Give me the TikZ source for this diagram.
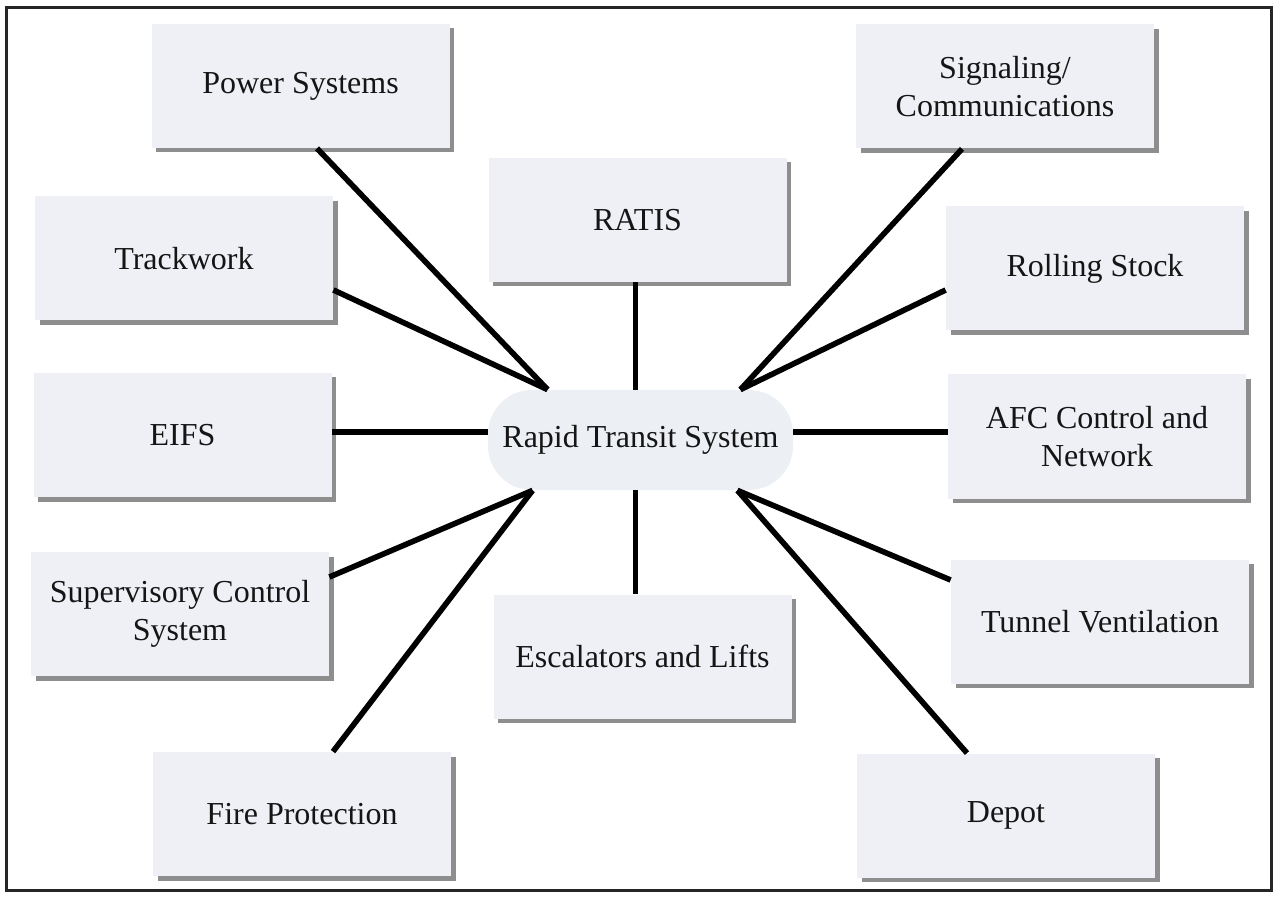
\documentclass[tikz,border=0pt]{standalone}
\usepackage{fontspec}
\setmainfont{Liberation Serif}
\usetikzlibrary{shadows,calc}

\definecolor{boxfill}{HTML}{EEF0F5}
\definecolor{hubfill}{HTML}{ECEFF4}
\definecolor{shadowgray}{HTML}{8E8E8E}
\definecolor{inkdark}{HTML}{151515}

\tikzset{
  unitbox/.style={
    fill=boxfill, draw=none, inner sep=0pt, align=center,
    text=inkdark, font=\fontsize{16}{19}\selectfont,
    minimum width=149pt, minimum height=62pt,
    drop shadow={shadow xshift=2.25pt, shadow yshift=-2.25pt,
                 fill=shadowgray, opacity=1}
  },
  hubbox/.style={
    fill=hubfill, draw=none, rounded corners=22pt, inner sep=0pt,
    text=inkdark, font=\fontsize{16}{19}\selectfont,
    minimum width=152.5pt, minimum height=50pt
  },
  spoke/.style={draw=black, line width=2.8pt},
  frame/.style={draw=black!85, line width=1.5pt}
}

\begin{document}
\begin{tikzpicture}[x=0.5pt, y=-0.5pt]
  \useasboundingbox (0,0) rectangle (1278,897);
  \draw[frame] (6,8) rectangle (1271,890);

  % central system
  \node[hubbox] (hub) at (640.5,440) {Rapid Transit System};

  % subsystems, left column
  \node[unitbox] (power)  at (300.5,86)  {Power Systems};
  \node[unitbox] (track)  at (184,258.5) {Trackwork};
  \node[unitbox] (eifs)   at (182.5,435) {EIFS};
  \node[unitbox] (scs)    at (180,614)   {Supervisory Control\\System};
  \node[unitbox] (fire)   at (302,814)   {Fire Protection};

  % subsystems, middle column
  \node[unitbox] (ratis)  at (637.5,220) {RATIS};
  \node[unitbox] (esc)    at (642.5,656.5) {Escalators and Lifts};

  % subsystems, right column
  \node[unitbox] (signal) at (1005,86.5)  {Signaling/\\Communications};
  \node[unitbox] (roll)   at (1095,268.5) {Rolling Stock};
  \node[unitbox] (afc)    at (1097,436.5) {AFC Control and\\Network};
  \node[unitbox] (tunnel) at (1100,621.5) {Tunnel Ventilation};
  \node[unitbox] (depot)  at (1006,815.5) {Depot};

  % meeting points on the central node
  \coordinate (hubNW) at ($(hub.north west)+(60,0)$);
  \coordinate (hubNE) at ($(hub.north east)+(-53,0)$);
  \coordinate (hubSW) at ($(hub.south west)+(45,0)$);
  \coordinate (hubSE) at ($(hub.south east)+(-56,0)$);
  \coordinate (hubN)  at ($(hub.north)+(-5,0)$);
  \coordinate (hubS)  at ($(hub.south)+(-5,0)$);
  \coordinate (hubW)  at ($(hub.west)+(0,-8)$);
  \coordinate (hubE)  at ($(hub.east)+(0,-8)$);

  % spokes
  \draw[spoke] ($(power.south)+(16.5,0)$) -- (hubNW);
  \draw[spoke] ($(track.east)+(0,31.5)$)  -- (hubNW);
  \draw[spoke] (eifs.east |- hubW) -- (hubW);
  \draw[spoke] ($(scs.east)+(0,-37)$)     -- (hubSW);
  \draw[spoke] ($(fire.north)+(31,0)$)    -- (hubSW);
  \draw[spoke] (ratis.south -| hubN) -- (hubN);
  \draw[spoke] (esc.north -| hubS)   -- (hubS);
  \draw[spoke] ($(signal.south)+(-43,0)$) -- (hubNE);
  \draw[spoke] ($(roll.west)+(0,21.5)$)   -- (hubNE);
  \draw[spoke] (afc.west |- hubE) -- (hubE);
  \draw[spoke] ($(tunnel.west)+(0,-41.5)$) -- (hubSE);
  \draw[spoke] ($(depot.north)+(-39,0)$)  -- (hubSE);
\end{tikzpicture}
\end{document}
